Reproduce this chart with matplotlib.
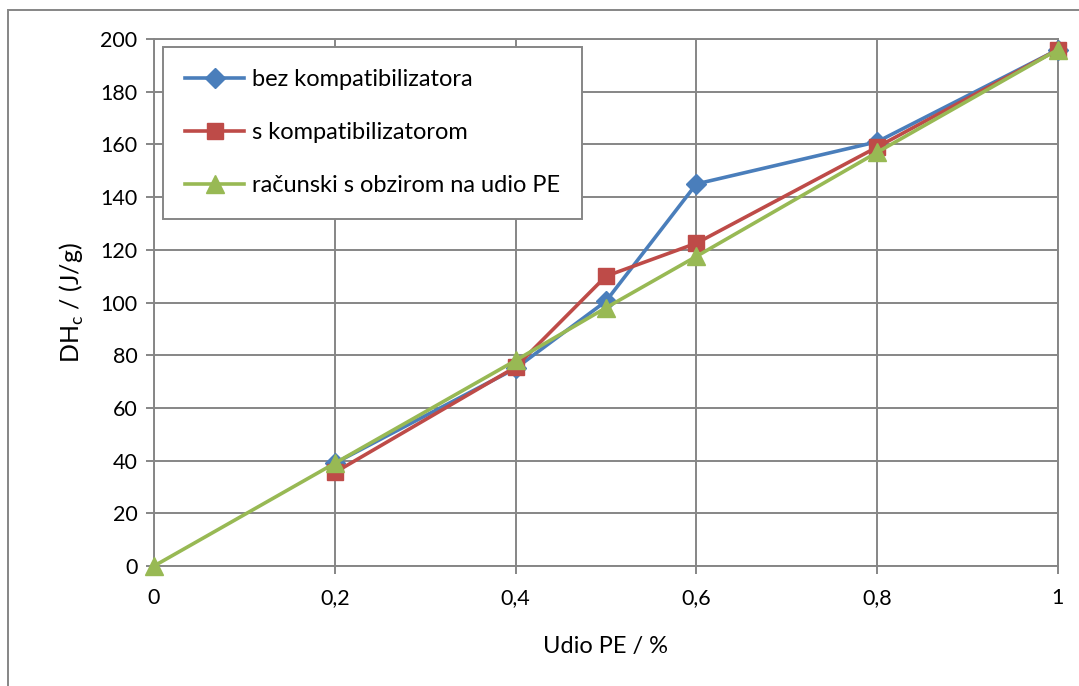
import matplotlib
matplotlib.use('Agg')
from matplotlib import pyplot as plt
from matplotlib.patches import Rectangle

# udio PE
x_meas = [0.2, 0.4, 0.5, 0.6, 0.8, 1.0]
x_calc = [0, 0.2, 0.4, 0.5, 0.6, 0.8, 1.0]
bez_komp = [39, 75, 100.5, 145, 161, 196]
s_komp = [35.5, 75.5, 110, 122.5, 159, 196]
racunski = [0, 39, 78, 98, 117.5, 157, 196]

x_ticks = [0, 0.2, 0.4, 0.6, 0.8, 1]
x_ticklabels = ['0', '0,2', '0,4', '0,6', '0,8', '1']
y_ticks = list(range(0, 201, 20))

plt.rcParams['font.family'] = ['Lato', 'DejaVu Sans']
grid_c = '#868686'

fig = plt.figure(figsize=(10.79, 6.86), dpi=100)
ax = fig.add_axes([0.1427, 0.1749, 0.8378, 0.7682])

ax.plot(x_meas, bez_komp, c='#4A7EBB', lw=2.6, marker='D', ms=10,
        label='bez kompatibilizatora', zorder=3, clip_on=False)
ax.plot(x_meas, s_komp, c='#BE4B48', lw=2.6, marker='s', ms=11,
        label='s kompatibilizatorom', zorder=4, clip_on=False)
ax.plot(x_calc, racunski, c='#98B954', lw=2.6, marker='^', ms=13,
        label='računski s obzirom na udio PE', zorder=5, clip_on=False)

ax.set_xlim(0, 1)
ax.set_ylim(0, 200)
ax.set_xticks(x_ticks)
ax.set_xticklabels(x_ticklabels)
ax.set_yticks(y_ticks)
ax.grid(True, color=grid_c, lw=1.4)
ax.set_axisbelow(True)
for s in ax.spines.values():
    s.set_color(grid_c)
    s.set_linewidth(1.4)
ax.tick_params(axis='both', labelsize=15.5, color=grid_c, width=1.4, length=6)
ax.tick_params(axis='x', pad=10)
ax.tick_params(axis='y', pad=6)

ax.set_xlabel('Udio PE / %', fontsize=17, labelpad=20)
ax.set_ylabel('DH$_\\mathregular{c}$ / (J/g)', fontsize=18, labelpad=10)

leg = ax.legend(loc='upper left', bbox_to_anchor=(0.01, 0.985), fontsize=17,
                fancybox=False, framealpha=1, edgecolor=grid_c,
                labelspacing=1.35, handlelength=2.5, handletextpad=0.3,
                borderpad=0.95, borderaxespad=0)
leg.get_frame().set_linewidth(1.4)

fig.patches.append(Rectangle((8 / 1079, -0.1), 1.2, 0.1 + 1 - 10 / 686,
                             transform=fig.transFigure, fill=False,
                             edgecolor=grid_c, lw=1.4))

plt.savefig('out.png', dpi=100)
